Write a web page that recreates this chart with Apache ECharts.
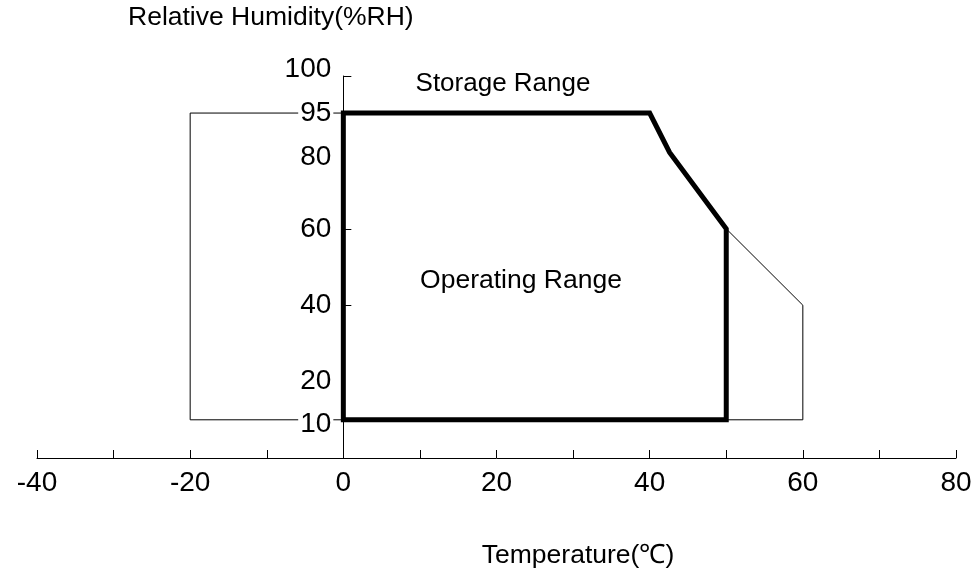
<!DOCTYPE html>
<html><head><meta charset="utf-8">
<script src="https://cdn.jsdelivr.net/npm/echarts@6/dist/echarts.min.js"></script>
<style>html,body{margin:0;padding:0;background:#fff}#c{width:974px;height:578px}</style>
</head><body><div id="c"></div>
<script>
// ---- data ----
const xTickValues = [-40, -30, -20, -10, 0, 10, 20, 30, 40, 50, 60, 70, 80];
const xLabelValues = [-40, -20, 0, 20, 40, 60, 80];
const yLabelValues = [10, 20, 40, 60, 80, 95, 100];
const yTickValues = [40, 60, 100];
// schematic (non-linear) humidity scale as drawn: humidity -> axis position
const humidityKnots = [0, 80, 95, 100];
const axisKnots = [0, 80, 90.3, 100];

const storageTemp = [-20, -20, 40, 42.6, 50, 60, 60, -20];
const storageRH   = [10, 95, 95, 80, 60, 40, 10, 10];
const operatingTemp = [0, 0, 40, 42.6, 50, 50, 0];
const operatingRH   = [10, 95, 95, 80, 60, 10, 10];

// ---- scale helper ----
function mapRH(h) {
  for (let i = 1; i < humidityKnots.length; i++) {
    if (h <= humidityKnots[i]) {
      const h0 = humidityKnots[i - 1], h1 = humidityKnots[i];
      const a0 = axisKnots[i - 1], a1 = axisKnots[i];
      return a0 + (h - h0) * (a1 - a0) / (h1 - h0);
    }
  }
  return axisKnots[axisKnots.length - 1];
}
const labelByPos = {};
yLabelValues.forEach(v => { labelByPos[mapRH(v).toFixed(3)] = String(v); });

const FONT = 'Arial, "Liberation Sans", sans-serif';
const richBase = {fontSize: 28, fontFamily: FONT, color: '#000'};
const chart = echarts.init(document.getElementById('c'), null, {renderer: 'canvas'});
chart.setOption({
  animation: false,
  backgroundColor: '#fff',
  grid: {left: 37, right: 18, top: 76, bottom: 120, containLabel: false, outerBoundsMode: 'none'},
  xAxis: {
    type: 'value', min: -40, max: 80, interval: 10,
    axisLine: {show: true, onZero: true, lineStyle: {color: '#000', width: 1}},
    axisTick: {show: true, inside: true, length: 8, customValues: xTickValues, lineStyle: {color: '#000'}},
    axisLabel: {show: true, customValues: xLabelValues, margin: 11, color: '#000', fontSize: 28, fontFamily: FONT},
    splitLine: {show: false}
  },
  yAxis: {
    type: 'value', min: 0, max: 100, z: 5, position: 'left',
    axisLine: {show: true, onZero: false, lineStyle: {color: '#000', width: 1}},
    axisTick: {show: true, inside: true, length: 8, customValues: yTickValues.map(mapRH), lineStyle: {color: '#000'}},
    axisLabel: {
      show: true, customValues: yLabelValues.map(mapRH), margin: 10, color: '#000', fontSize: 28, fontFamily: FONT,
      backgroundColor: '#fff', padding: [0, 2],
      formatter: v => {
        const s = labelByPos[v.toFixed(3)] || '';
        if (s === '100') return '{up|' + s + '}';
        if (s === '80' || s === '10') return '{dn|' + s + '}';
        return '{n|' + s + '}';
      },
      rich: {
        n: Object.assign({}, richBase),
        up: Object.assign({padding: [0, 0, 14, 0]}, richBase),
        dn: Object.assign({padding: [9, 0, 0, 0]}, richBase)
      }
    },
    splitLine: {show: false}
  },
  series: [
    {
      type: 'line', name: 'Storage Range', symbol: 'none', z: 2,
      data: storageTemp.map((t, i) => [t, mapRH(storageRH[i])]),
      lineStyle: {color: '#000', width: 1, join: 'miter'}
    },
    {
      type: 'line', name: 'Operating Range', symbol: 'none', z: 3,
      data: operatingTemp.map((t, i) => [t, mapRH(operatingRH[i])]),
      lineStyle: {color: '#000', width: 5, join: 'miter', cap: 'square'}
    }
  ],
  graphic: [
    {type: 'text', x: 128, y: 18, style: {text: 'Relative Humidity(%RH)', font: '26.5px ' + FONT, fill: '#000', align: 'left', verticalAlign: 'middle'}},
    {type: 'text', x: 503, y: 84, style: {text: 'Storage Range', font: '26px ' + FONT, fill: '#000', align: 'center', verticalAlign: 'middle'}},
    {type: 'text', x: 521, y: 281, style: {text: 'Operating Range', font: '26.5px ' + FONT, fill: '#000', align: 'center', verticalAlign: 'middle'}},
    {type: 'text', x: 578, y: 556, style: {text: 'Temperature(℃)', font: '26.5px ' + FONT, fill: '#000', align: 'center', verticalAlign: 'middle'}}
  ]
});
// place the humidity axis at temperature 0 using the x-axis scale
const pxLeft = chart.convertToPixel({xAxisIndex: 0}, -40);
const pxZero = chart.convertToPixel({xAxisIndex: 0}, 0);
chart.setOption({yAxis: {offset: pxLeft - pxZero}});
</script></body></html>
